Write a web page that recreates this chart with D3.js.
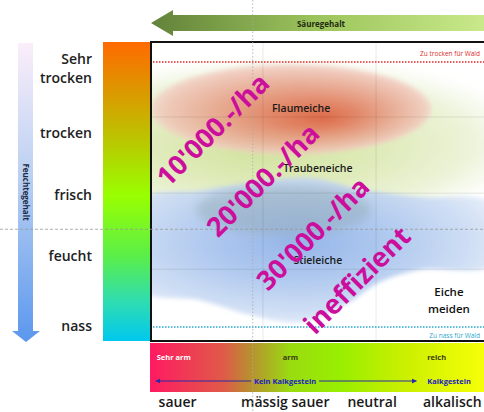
<!DOCTYPE html>
<html><head><meta charset="utf-8">
<script src="https://cdn.jsdelivr.net/npm/d3@7"></script>
<style>body{margin:0;background:#fff}svg{display:block}text{font-family:"Open Sans",sans-serif}</style>
</head><body><svg id="c" width="484" height="412"></svg>
<script>
// ---------- data ----------
const moistureLevels = ["Sehr trocken", "trocken", "frisch", "feucht", "nass"];
const moistureValues = [1, 2, 2.97, 3.92, 5];
const acidLevels = ["sauer", "mässig sauer", "neutral", "alkalisch"];
const acidValues = [0.33, 1.62, 2.66, 3.62];
const nutrientLevels = ["Sehr arm", "arm", "reich"];
const nutrientValues = [0.08, 1.59, 3.32];
const limeLabels = ["Kein Kalkgestein", "Kalkgestein"];
const limeRange = [0.07, 3.19];
const costLabels = ["10'000.-/ha", "20'000.-/ha", "30'000.-/ha", "ineffizient"];
const costAcid = [0.755, 1.353, 1.952, 2.479];
const costMoisture = [1.96, 2.74, 3.57, 4.29];
const speciesNames = ["Flaumeiche", "Traubeneiche", "Stieleiche"];
const speciesAcid = [1.81, 2.01, 2.01];
const speciesMoisture = [1.62, 2.55, 3.98];
const avoidLabel = ["Eiche", "meiden"];
const avoidPos = [3.58, 4.48, 4.74];
const limitLabels = ["Zu trocken für Wald", "Zu nass für Wald"];
const limitMoisture = [0.907, 5.016];
const gridMoisture = [1.76, 2.94, 4.12];
const gridAcid = [1.353, 2.707];
const midMoisture = 3.5, midAcid = 1.23;
// zones (acid, moisture)
const flaumZone = {c: [1.69, 1.64], r: [1.68, 0.7]};
const traubZone = {c: [1.6, 2.15], r: [2.9, 1.3]};
const stielZone = [[-0.1,3.05],[0.6,2.9],[1.32,2.76],[1.92,2.7],[2.52,2.88],[3.23,3.0],[4.1,3.1],[4.1,4.05],[3.23,4.13],[2.75,4.32],[2.34,4.67],[1.8,4.94],[1.2,4.83],[0.6,4.6],[-0.1,4.44]];
const overlapZone = {c: [1.6, 3.2], r: [1.05, 0.38]};

// ---------- scales ----------
const svg = d3.select("#c");
const x = d3.scaleLinear().domain([0, 4]).range([150, 484]);
const y = d3.scaleLinear().domain([1, 5]).range([68, 326]);
const boxT = 42, boxB = 341, boxL = 150, boxR = 484;

const defs = svg.append("defs");
function lin(id, x1, y1, x2, y2, stops) {
  const g = defs.append("linearGradient").attr("id", id)
    .attr("x1", x1).attr("y1", y1).attr("x2", x2).attr("y2", y2);
  stops.forEach(s => g.append("stop").attr("offset", s[0]).attr("stop-color", s[1]).attr("stop-opacity", s[2] == null ? 1 : s[2]));
}
function rad(id, cx, cy, r, stops, fx, fy) {
  const g = defs.append("radialGradient").attr("id", id).attr("cx", cx).attr("cy", cy).attr("r", r);
  if (fx != null) g.attr("fx", fx).attr("fy", fy);
  stops.forEach(s => g.append("stop").attr("offset", s[0]).attr("stop-color", s[1]).attr("stop-opacity", s[2] == null ? 1 : s[2]));
}
lin("gTop", 0, 0, 1, 0, [[0, "#62823a"], [0.5, "#9cc45c"], [1, "#c9e98a"]]);
lin("gLeft", 0, 0, 0, 1, [[0, "#fbeefa"], [0.45, "#b9d0f2"], [1, "#5b97ee"]]);
lin("gBar", 0, 0, 0, 1, [[0, "#ff6a00"], [0.305, "#bfbf00"], [0.513, "#99ff00"], [0.718, "#5aee4a"], [0.866, "#30ddb0"], [1, "#00c8ee"]]);
lin("gBottom", 0, 0, 1, 0, [[0, "#ff1a62"], [0.22, "#e05a48"], [0.3, "#b98f30"], [0.42, "#99dc10"], [0.57, "#99ee00"], [0.77, "#ccf000"], [1, "#f6ff08"]]);
rad("gRed", 0.5, 0.5, 0.5, [[0, "#dc6444", 0.95], [0.3, "#e27c5f", 0.9], [0.65, "#e9a08c", 0.82], [0.92, "#f0c2b6", 0.8], [1, "#f4d2c9", 0.7]], 0.62, 0.6);
rad("gGreen", 0.5, 0.5, 0.5, [[0, "#cfe199", 0.95], [0.45, "#dce9b3", 0.92], [0.8, "#e9f1d2", 0.85], [1, "#f4f8ea", 0.3]], 0.45, 0.55);
rad("gBlue", 0.45, 0.45, 0.62, [[0, "#95b5e8", 1], [0.4, "#abc6ee", 0.95], [0.75, "#c9daf3", 0.9], [1, "#e6eef9", 0.85]]);
defs.append("filter").attr("id", "blur").attr("x", "-20%").attr("y", "-20%").attr("width", "140%").attr("height", "140%")
  .append("feGaussianBlur").attr("stdDeviation", 2.2);
defs.append("filter").attr("id", "blur2").attr("x", "-30%").attr("y", "-30%").attr("width", "160%").attr("height", "160%")
  .append("feGaussianBlur").attr("stdDeviation", 5);
defs.append("clipPath").attr("id", "boxClip").append("rect")
  .attr("x", boxL).attr("y", boxT).attr("width", boxR - boxL).attr("height", boxB - boxT);
const mk = defs.append("marker").attr("id", "ah").attr("viewBox", "0 0 10 10").attr("refX", 9).attr("refY", 5)
  .attr("markerWidth", 5).attr("markerHeight", 5).attr("orient", "auto-start-reverse");
mk.append("path").attr("d", "M0,0L10,5L0,10Z").attr("fill", "#2a2aa8");

// ---------- top arrow ----------
svg.append("path").attr("fill", "url(#gTop)")
  .attr("d", `M151,23L173,10L173,15L${boxR},15L${boxR},31L173,31L173,36Z`);
svg.append("text").attr("x", 321).attr("y", 26.5).attr("text-anchor", "middle")
  .attr("font-size", 8).attr("font-weight", 700).attr("fill", "#1e2a10").text("Säuregehalt");

// ---------- left arrow ----------
svg.append("path").attr("fill", "url(#gLeft)")
  .attr("d", "M18,43L33,43L33,331L40,331L26,342L12,331L18,331Z");
svg.append("text").attr("transform", "translate(26,192) rotate(90)").attr("text-anchor", "middle").attr("dy", "0.35em")
  .attr("font-size", 8).attr("font-weight", 700).attr("fill", "#1d2a44").text("Feuchtegehalt");

// ---------- moisture labels ----------
const yl = svg.append("g").attr("font-size", 14).attr("font-weight", 600).attr("fill", "#222").attr("text-anchor", "end");
moistureLevels.forEach((m, i) => {
  const words = m.split(" ");
  const t = yl.append("text").attr("x", 92).attr("y", y(moistureValues[i]) + 5 - (words.length - 1) * 9.5);
  words.forEach((w, j) => t.append("tspan").attr("x", 92).attr("dy", j ? 19 : 0).text(w));
});

// ---------- colour bar ----------
svg.append("rect").attr("x", 103).attr("y", boxT).attr("width", boxL - 103).attr("height", boxB - boxT).attr("fill", "url(#gBar)");

// ---------- main box ----------
svg.append("rect").attr("x", boxL).attr("y", boxT).attr("width", boxR - boxL).attr("height", boxB - boxT).attr("fill", "#fff");
const inner = svg.append("g").attr("clip-path", "url(#boxClip)");

// zones
inner.append("ellipse").attr("cx", x(traubZone.c[0])).attr("cy", y(traubZone.c[1]))
  .attr("rx", x(traubZone.r[0]) - x(0)).attr("ry", y(1 + traubZone.r[1]) - y(1))
  .attr("fill", "url(#gGreen)").attr("filter", "url(#blur2)");
inner.append("path").attr("d", d3.line().x(d => x(d[0])).y(d => y(d[1])).curve(d3.curveCatmullRomClosed)(stielZone))
  .attr("fill", "url(#gBlue)").attr("filter", "url(#blur)");
inner.append("ellipse").attr("cx", x(overlapZone.c[0])).attr("cy", y(overlapZone.c[1]))
  .attr("rx", x(overlapZone.r[0]) - x(0)).attr("ry", y(1 + overlapZone.r[1]) - y(1))
  .attr("fill", "#8ea4ac").attr("opacity", 0.4).attr("filter", "url(#blur2)");
inner.append("ellipse").attr("cx", x(flaumZone.c[0])).attr("cy", y(flaumZone.c[1]))
  .attr("rx", x(flaumZone.r[0]) - x(0)).attr("ry", y(1 + flaumZone.r[1]) - y(1))
  .attr("fill", "url(#gRed)").attr("filter", "url(#blur)");

// grid
gridMoisture.forEach(v => inner.append("line").attr("x1", boxL).attr("x2", boxR).attr("y1", y(v)).attr("y2", y(v))
  .attr("stroke", "#000").attr("stroke-opacity", 0.09).attr("stroke-width", 1));
gridAcid.forEach(v => inner.append("line").attr("y1", boxT).attr("y2", boxB).attr("x1", x(v)).attr("x2", x(v))
  .attr("stroke", "#000").attr("stroke-opacity", 0.09).attr("stroke-width", 1));

// limit lines
const limitColors = ["#e02828", "#2aa8cc"];
limitMoisture.forEach((v, i) => {
  inner.append("line").attr("x1", boxL).attr("x2", boxR).attr("y1", y(v)).attr("y2", y(v))
    .attr("stroke", limitColors[i]).attr("stroke-width", 1.5).attr("stroke-dasharray", "1.5,1.5");
  inner.append("text").attr("x", 480).attr("y", y(v) + (i ? 10.5 : -6)).attr("text-anchor", "end")
    .attr("font-size", 6.5).attr("fill", limitColors[i]).text(limitLabels[i]);
});

// species labels
speciesNames.forEach((s, i) => inner.append("text").attr("x", x(speciesAcid[i])).attr("y", y(speciesMoisture[i]) + 4)
  .attr("text-anchor", "middle").attr("font-size", 10.5).attr("font-weight", 600).attr("fill", "#1a1a1a").text(s));
avoidLabel.forEach((s, i) => inner.append("text").attr("x", x(avoidPos[0])).attr("y", y(avoidPos[1 + i]) + 4)
  .attr("text-anchor", "middle").attr("font-size", 11.5).attr("font-weight", 600).attr("fill", "#111").text(s));

// box border
svg.append("rect").attr("x", boxL + 1).attr("y", boxT).attr("width", boxR - boxL + 5).attr("height", boxB - boxT)
  .attr("fill", "none").attr("stroke", "#111").attr("stroke-width", 2);

// ---------- bottom bar ----------
svg.append("rect").attr("x", boxL).attr("y", 343).attr("width", boxR - boxL).attr("height", 49).attr("fill", "url(#gBottom)");
const nutColors = ["#ffffff", "#3a3a10", "#3a3a10"];
nutrientLevels.forEach((n, i) => svg.append("text").attr("x", x(nutrientValues[i])).attr("y", 360)
  .attr("font-size", 7.5).attr("font-weight", 700).attr("fill", nutColors[i]).text(n));
const limeY = 381;
const limeMid = x((limeRange[0] + limeRange[1]) / 2) - 1;
svg.append("line").attr("x1", x(limeRange[0])).attr("x2", limeMid - 34).attr("y1", limeY).attr("y2", limeY)
  .attr("stroke", "#2a2aa8").attr("stroke-width", 1).attr("marker-start", "url(#ah)");
svg.append("line").attr("x1", limeMid + 34).attr("x2", x(limeRange[1])).attr("y1", limeY).attr("y2", limeY)
  .attr("stroke", "#2a2aa8").attr("stroke-width", 1).attr("marker-end", "url(#ah)");
svg.append("text").attr("x", limeMid).attr("y", limeY + 2.5).attr("text-anchor", "middle")
  .attr("font-size", 7.5).attr("font-weight", 700).attr("fill", "#2020c0").text(limeLabels[0]);
svg.append("text").attr("x", x(nutrientValues[2])).attr("y", limeY + 2.5)
  .attr("font-size", 7.5).attr("font-weight", 700).attr("fill", "#2020c0").text(limeLabels[1]);

// ---------- acid labels ----------
acidLevels.forEach((a, i) => svg.append("text").attr("x", x(acidValues[i])).attr("y", 407).attr("text-anchor", "middle")
  .attr("font-size", 14).attr("font-weight", 600).attr("fill", "#1a1a1a").text(a));

// ---------- mid guide lines ----------
svg.append("line").attr("x1", 0).attr("x2", boxR).attr("y1", y(midMoisture)).attr("y2", y(midMoisture))
  .attr("stroke", "#999").attr("stroke-width", 0.8).attr("stroke-dasharray", "3,2");
svg.append("line").attr("x1", x(midAcid)).attr("x2", x(midAcid)).attr("y1", 0).attr("y2", 412)
  .attr("stroke", "#aaa").attr("stroke-width", 0.8).attr("stroke-dasharray", "1.5,2");

// ---------- cost labels ----------
costLabels.forEach((c, i) => svg.append("text")
  .attr("transform", `translate(${x(costAcid[i])},${y(costMoisture[i])}) rotate(-45)`)
  .attr("text-anchor", "middle").attr("dy", "0.35em")
  .attr("font-size", 27).attr("font-weight", 700).attr("fill", "#cc0e9c").text(c));
</script></body></html>
